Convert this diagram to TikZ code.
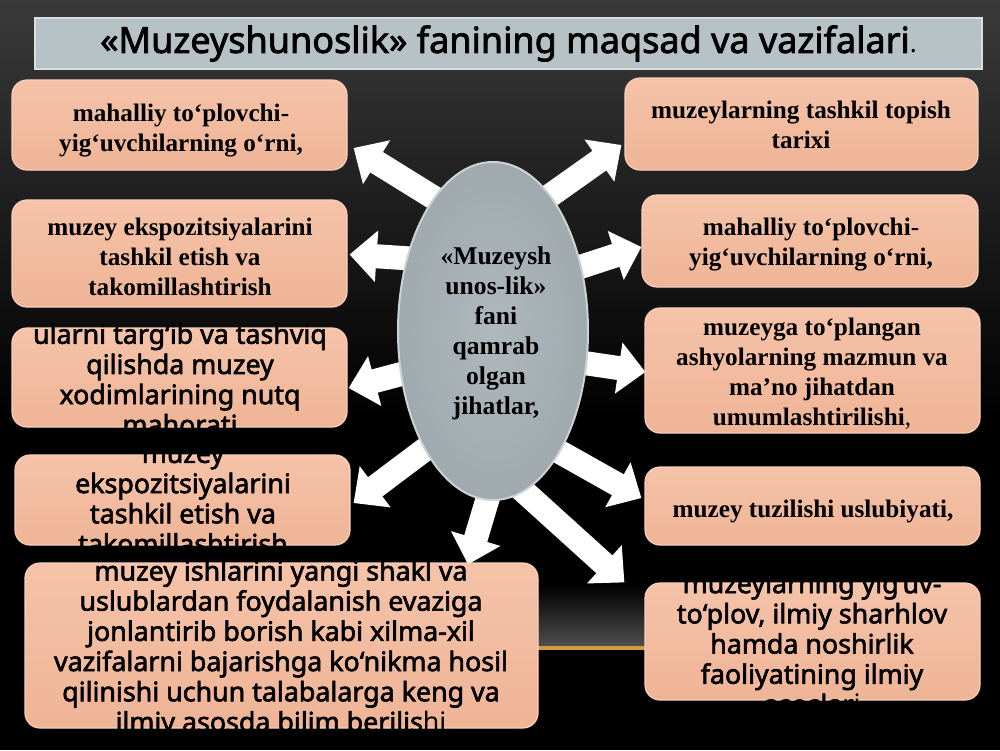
\documentclass[tikz,border=0pt]{standalone}
\usepackage{fontspec}
\setmainfont{Liberation Serif}
\newfontfamily\notosans[FakeBold=2.2]{Noto Sans}
\newfontfamily\notosanslight{Noto Sans}
\usetikzlibrary{shapes.geometric,arrows.meta,calc}
\definecolor{bgtop}{HTML}{3A3A3A}
\definecolor{boxtop}{HTML}{F5C3A9}
\definecolor{boxbot}{HTML}{EFB496}
\definecolor{boxedge}{HTML}{F8D0BC}
\definecolor{barfill}{HTML}{B7C2C6}
\definecolor{baredge}{HTML}{D8DFE1}
\definecolor{elltop}{HTML}{AFB9BD}
\definecolor{ellbot}{HTML}{A0AAAE}
\definecolor{elledge}{HTML}{CBD3D6}
\definecolor{glow}{HTML}{4E4E4E}
\definecolor{gold}{HTML}{D39B3C}
\pgfdeclarelayer{bg}
\pgfdeclarelayer{arr}
\pgfsetlayers{bg,arr,main}
\tikzset{
  box/.style={rounded corners=7.5pt, draw=boxedge, line width=0.6pt,
    top color=boxtop, bottom color=boxbot, inner sep=0pt, minimum width=167.5pt},
  seriftxt/.style={font=\bfseries\fontsize{12.6}{15}\selectfont, align=center},
  sanstxt/.style={font=\notosans\fontsize{13.4}{15.1}\selectfont, align=center},
  bigarrow/.style={draw=white, line width=12pt, -{Triangle[length=13.5pt,width=25pt]}},
}
\begin{document}
\begin{tikzpicture}[x=0.5pt,y=-0.5pt]
\useasboundingbox (0,0) rectangle (1000,750);
% background
\begin{pgfonlayer}{bg}
\fill[black] (0,0) rectangle (1000,750);
\shade[top color=bgtop, bottom color=black] (0,0) rectangle (1000,420);
\shade[top color=black, bottom color=glow] (300,585) rectangle (850,646);
\fill[gold] (300,645.5) rectangle (850,650);
\end{pgfonlayer}

% title
\node[draw=baredge, fill=barfill, line width=0.6pt, minimum width=473.5pt, minimum height=25.5pt,
  inner sep=0pt, font=\notosans\fontsize{18}{20}\selectfont] (title) at (508.5,43.5)
  {«Muzeyshunoslik» fanining maqsad va vazifalari{\notosanslight\fontsize{13}{13}\selectfont.}};

% centre
\node[ellipse, draw=elledge, line width=1pt, inner color=elltop, outer color=ellbot,
  minimum width=95pt, minimum height=169pt, inner sep=0pt] (ell) at (493,331) {};
\node[seriftxt, font=\bfseries\fontsize{12.8}{15}\selectfont] (elltxt) at (496,333)
  {«Muzeysh\\unos-lik»\\fani\\qamrab\\olgan\\jihatlar,};

% left column
\node[box, minimum height=45pt] (L1) at (179.5,125) {};
\node[seriftxt] (L1txt) at (181,131) {mahalliy to‘plovchi-\\yig‘uvchilarning o‘rni,};
\node[box, minimum height=53.5pt] (L2) at (179.5,253.5) {};
\node[seriftxt] (L2txt) at (180,257) {muzey ekspozitsiyalarini\\tashkil etish va\\takomillashtirish};
\node[box, minimum height=49.5pt] (L3) at (179.5,377.5) {};
\node[sanstxt] (L3txt) at (180,379)
  {ularni targ‘ib va tashviq\\qilishda muzey\\xodimlarining nutq\\mahorati};
\node[box, minimum height=45pt] (L4) at (182.5,500) {};
\node[sanstxt] (L4txt) at (183,501)
  {muzey\\ekspozitsiyalarini\\tashkil etish va\\takomillashtirish};
\node[box, minimum width=256.5pt, minimum height=82.5pt] (B) at (281.5,645.5) {};
\node[sanstxt] (Btxt) at (281,649)
  {muzey ishlarini yangi shakl va\\uslublardan foydalanish evaziga\\jonlantirib borish kabi xilma-xil\\vazifalarni bajarishga ko‘nikma hosil\\qilinishi uchun talabalarga keng va\\ilmiy asosda bilim berilis{\notosanslight hi}};

% right column
\node[box, minimum width=176.5pt, minimum height=46pt] (R1) at (801.5,124) {};
\node[seriftxt] (R1txt) at (801,125) {muzeylarning tashkil topish\\tarixi};
\node[box, minimum width=168pt, minimum height=46pt] (R2) at (810,241) {};
\node[seriftxt] (R2txt) at (811,245) {mahalliy to‘plovchi-\\yig‘uvchilarning o‘rni,};
\node[box, minimum height=62.5pt] (R3) at (812.5,370.5) {};
\node[seriftxt] (R3txt) at (812,374)
  {muzeyga to‘plangan\\ashyolarning mazmun va\\ma’no jihatdan\\umumlashtirilishi{\mdseries ,}};
\node[box, minimum height=39pt] (R4) at (812.5,506) {};
\node[seriftxt] (R4txt) at (813,511) {muzey tuzilishi uslubiyati,};
\node[box, minimum height=58.5pt] (R5) at (812.5,641.5) {};
\node[sanstxt] (R5txt) at (812,643.5)
  {muzeylarning yig‘uv-\\to‘plov, ilmiy sharhlov\\hamda noshirlik\\faoliyatining ilmiy\\asoslar{\notosanslight i}};

% arrow tips
\coordinate (t1) at ([shift={(6,23)}]L1.east);
\coordinate (t2) at ([shift={(2,1)}]L2.east);
\coordinate (t3) at ([shift={(1,10.5)}]L3.east);
\coordinate (t4) at ([shift={(3,3)}]L4.east);
\coordinate (t5) at ([shift={(186.5,2)}]B.north);
\coordinate (t6) at ([shift={(-20,0)}]R5.north west);
\coordinate (t7) at ([shift={(-3,-8)}]R4.west);
\coordinate (t8) at ([shift={(1,1.5)}]R3.west);
\coordinate (t9) at ([shift={(0,6)}]R2.west);
\coordinate (t10) at ([shift={(-3,21)}]R1.west);

% arrows (behind the ellipse)
\begin{pgfonlayer}{arr}
\draw[bigarrow] ($(ell.114)!-16pt!(t1)$) -- (t1);
\draw[bigarrow] ($(ell.140)!-16pt!(t2)$) -- (t2);
\draw[bigarrow] ($(ell.205)!-16pt!(t3)$) -- (t3);
\draw[bigarrow] ($(ell.240)!-16pt!(t4)$) -- (t4);
\draw[bigarrow] ($(ell.268)!-16pt!(t5)$) -- (t5);
\draw[bigarrow] ($(ell.281)!-16pt!(t6)$) -- (t6);
\draw[bigarrow] ($(ell.299)!-16pt!(t7)$) -- (t7);
\draw[bigarrow] ($(ell.341)!-16pt!(t8)$) -- (t8);
\draw[bigarrow] ($(ell.36)!-16pt!(t9)$) -- (t9);
\draw[bigarrow] ($(ell.67)!-16pt!(t10)$) -- (t10);
\end{pgfonlayer}
\end{tikzpicture}
\end{document}
